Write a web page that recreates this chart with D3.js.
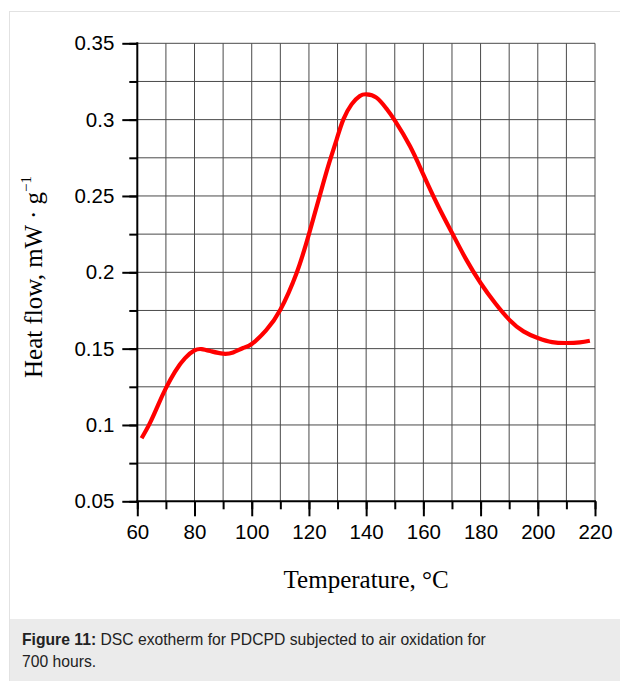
<!DOCTYPE html>
<html><head><meta charset="utf-8">
<script src="https://cdn.jsdelivr.net/npm/d3@7"></script>
<style>
html,body{margin:0;padding:0;background:#fff;}
svg{display:block;}
</style></head>
<body>
<svg id="chart" width="620" height="681"></svg>
<script>
const temperature = [61.5, 64.4, 67.3, 70, 73.2, 76.7, 80, 82.5, 86, 90, 93.5, 97, 100, 105, 110, 115.7, 120, 124.4, 127.1, 129.7, 132, 134.9, 137.8, 140.1, 143.6, 147.1, 150, 155.3, 160, 165.2, 170, 175, 180, 185, 190, 195, 200, 205, 210, 214.7, 218.2];
const heatFlow = [0.0913, 0.1012, 0.1132, 0.1241, 0.135, 0.1438, 0.1488, 0.1497, 0.1482, 0.1467, 0.1475, 0.1504, 0.153, 0.162, 0.1755, 0.1996, 0.225, 0.2543, 0.2718, 0.2871, 0.300, 0.310, 0.3155, 0.3166, 0.3144, 0.3072, 0.2995, 0.2827, 0.264, 0.2433, 0.2259, 0.2083, 0.193, 0.180, 0.169, 0.1613, 0.157, 0.1543, 0.1537, 0.1541, 0.1552];
const xTickLabels = [60, 80, 100, 120, 140, 160, 180, 200, 220];
const yTickLabels = [0.05, 0.1, 0.15, 0.2, 0.25, 0.3, 0.35];
const xMinor = d3.range(60, 221, 10);
const yMinor = d3.range(0.05, 0.3501, 0.025);
const captionBold = "Figure 11:";
const captionLine1 = " DSC exotherm for PDCPD subjected to air oxidation for";
const captionLine2 = "700 hours.";

const svg = d3.select("#chart");
const L = 137.3, R = 595, T = 43.3, B = 501.3;
const x = d3.scaleLinear().domain([60, 220]).range([L, R]);
const y = d3.scaleLinear().domain([0.05, 0.35]).range([B, T]);

// figure frame
svg.append("rect").attr("x", 9.5).attr("y", 11.5).attr("width", 620).attr("height", 680)
  .attr("fill", "#fff").attr("stroke", "#e2e2e2").attr("stroke-width", 1);
svg.append("rect").attr("x", 10).attr("y", 619).attr("width", 610).attr("height", 62)
  .attr("fill", "#ebebeb");

// grid
const g = svg.append("g");
g.selectAll(".vg").data(xMinor.filter(d => d > 60)).join("line")
  .attr("x1", d => x(d)).attr("x2", d => x(d)).attr("y1", T).attr("y2", B)
  .attr("stroke", "#4a4a4a").attr("stroke-width", 1);
g.selectAll(".hg").data(yMinor.filter(d => d > 0.051)).join("line")
  .attr("x1", L).attr("x2", R).attr("y1", d => y(d)).attr("y2", d => y(d))
  .attr("stroke", "#4a4a4a").attr("stroke-width", 1);

// curve
const pts = temperature.map((t, i) => [t, heatFlow[i]]);
svg.append("path").datum(pts)
  .attr("d", d3.line().x(d => x(d[0])).y(d => y(d[1])).curve(d3.curveNatural))
  .attr("fill", "none").attr("stroke", "#ff0000").attr("stroke-width", 4.2)
  .attr("stroke-linecap", "butt").attr("stroke-linejoin", "round");

// axes
const font = "'Liberation Sans', Arial, sans-serif";
const xAxisMinor = d3.axisBottom(x).tickValues(xMinor).tickSize(8).tickFormat("");
const xAxis = d3.axisBottom(x).tickValues(xTickLabels).tickSize(15).tickPadding(8).tickFormat(d3.format("d"));
const yAxisMinor = d3.axisLeft(y).tickValues(yMinor).tickSize(8).tickFormat("");
const yAxis = d3.axisLeft(y).tickValues(yTickLabels).tickSize(15).tickPadding(8).tickFormat(d => String(+d.toFixed(2)));

function style(sel) {
  sel.select(".domain").remove();
  sel.selectAll("line").attr("stroke", "#000").attr("stroke-width", 2);
  sel.selectAll("text").attr("fill", "#000").style("font-family", font).style("font-size", "20.5px");
}
svg.append("g").attr("transform", `translate(0,${B})`).call(xAxisMinor).call(style);
svg.append("g").attr("transform", `translate(0,${B})`).call(xAxis).call(style);
svg.append("g").attr("transform", `translate(${L},0)`).call(yAxisMinor).call(style);
svg.append("g").attr("transform", `translate(${L},0)`).call(yAxis).call(style);

svg.append("line").attr("x1", L).attr("x2", L).attr("y1", T - 1).attr("y2", B + 1)
  .attr("stroke", "#000").attr("stroke-width", 2);
svg.append("line").attr("x1", L - 1).attr("x2", R + 1).attr("y1", B).attr("y2", B)
  .attr("stroke", "#000").attr("stroke-width", 2);

// axis titles
const serif = "'Liberation Serif', 'Times New Roman', serif";
svg.append("text").attr("x", (L + R) / 2).attr("y", 588).attr("text-anchor", "middle")
  .style("font-family", serif).style("font-size", "25px").attr("fill", "#000")
  .text("Temperature, °C");
const yt = svg.append("text").attr("transform", "translate(42,277) rotate(-90)")
  .attr("text-anchor", "middle").style("font-family", serif).style("font-size", "25px").attr("fill", "#000");
yt.append("tspan").text("Heat flow, mW · g");
yt.append("tspan").attr("dy", -11).style("font-size", "15px").text("−1");

// caption
const cap = svg.append("text").attr("x", 22).attr("y", 645)
  .style("font-family", font).style("font-size", "15.7px").attr("fill", "#222");
cap.append("tspan").style("font-weight", "bold").text(captionBold);
cap.append("tspan").text(captionLine1);
svg.append("text").attr("x", 22).attr("y", 667)
  .style("font-family", font).style("font-size", "15.7px").attr("fill", "#222").text(captionLine2);
</script>
</body></html>
